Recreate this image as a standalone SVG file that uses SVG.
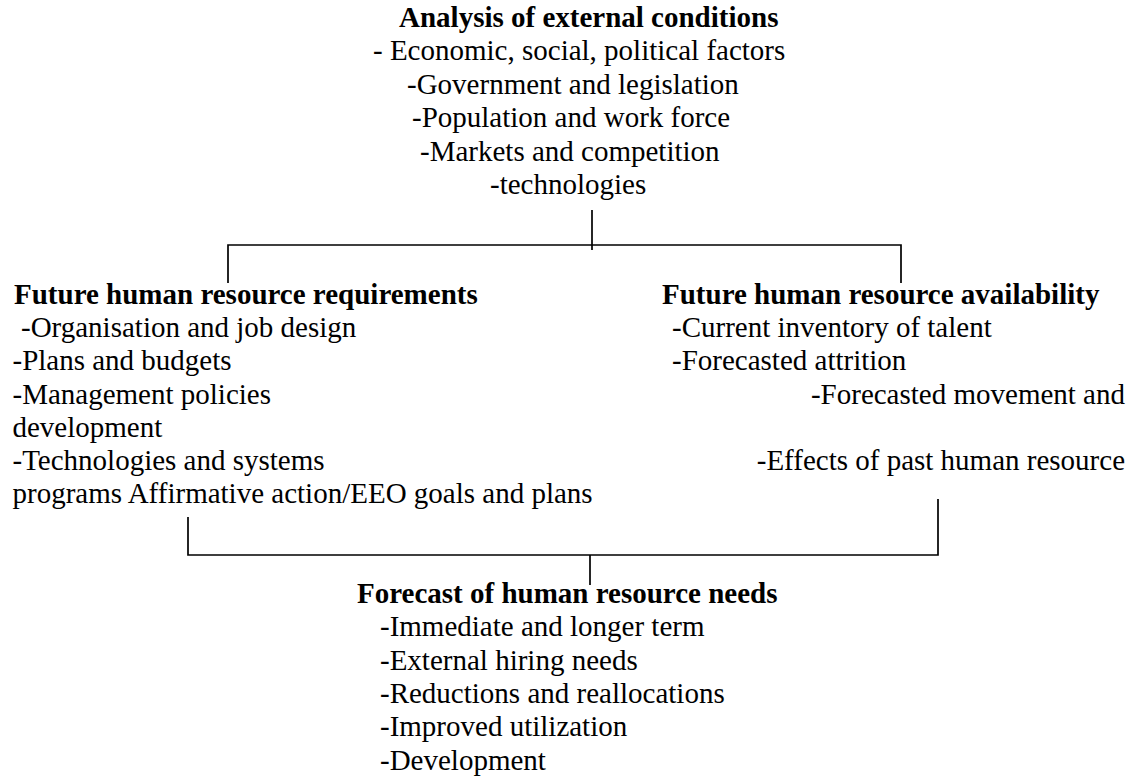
<svg xmlns="http://www.w3.org/2000/svg" width="1136" height="781" viewBox="0 0 1136 781">
  <style>
    text { font-family: "Liberation Serif", "Times New Roman", serif; font-size: 29px; fill: #000; }
    .head { font-weight: bold; }
    .end { text-anchor: end; }
    .link { fill: none; stroke: #000; stroke-width: 1.7; }
  </style>
  <rect width="1136" height="781" fill="#fff"/>

  <!-- connectors: bracket joins between the blocks -->
  <g id="connectors">
    <path class="link" d="M592 210 V250"/>
    <path class="link" d="M228 283 V245 H901 V283"/>
    <path class="link" d="M188 517 V555 H938 V499"/>
    <path class="link" d="M590 555 V585"/>
  </g>

  <!-- external conditions -->
  <g id="external-conditions">
    <text class="head" x="399" y="27">Analysis of external conditions</text>
    <text x="373" y="60">- Economic, social, political factors</text>
    <text x="407" y="94">-Government and legislation</text>
    <text x="412" y="127">-Population and work force</text>
    <text x="420" y="161">-Markets and competition</text>
    <text x="490" y="194">-technologies</text>
  </g>

  <!-- future requirements -->
  <g id="requirements">
    <text class="head" x="14" y="304">Future human resource requirements</text>
    <text x="21" y="337">-Organisation and job design</text>
    <text x="12.5" y="370">-Plans and budgets</text>
    <text x="12.5" y="404">-Management policies</text>
    <text x="12.5" y="437">development</text>
    <text x="12.5" y="470">-Technologies and systems</text>
    <text x="12.5" y="503">programs Affirmative action/EEO goals and plans</text>
  </g>

  <!-- future availability -->
  <g id="availability">
    <text class="head" x="662" y="304">Future human resource availability</text>
    <text x="672" y="337">-Current inventory of talent</text>
    <text x="672" y="370">-Forecasted attrition</text>
    <text class="end" x="1125" y="404">-Forecasted movement and</text>
    <text class="end" x="1125" y="470">-Effects of past human resource</text>
  </g>

  <!-- forecast of needs -->
  <g id="forecast">
    <text class="head" x="357" y="603">Forecast of human resource needs</text>
    <text x="380" y="636">-Immediate and longer term</text>
    <text x="380" y="670">-External hiring needs</text>
    <text x="380" y="703">-Reductions and reallocations</text>
    <text x="380" y="736">-Improved utilization</text>
    <text x="380" y="770">-Development</text>
  </g>
</svg>
